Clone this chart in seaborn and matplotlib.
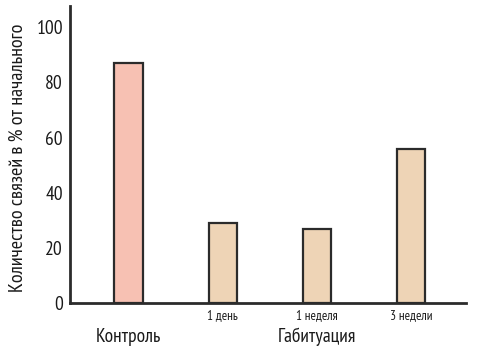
import matplotlib
matplotlib.use("Agg")
import matplotlib.pyplot as plt
import matplotlib.transforms as mtransforms
import seaborn as sns
import pandas as pd

categories = ["Контроль", "1 день", "1 неделя", "3 недели"]
values = [87, 29, 27, 56]
tick_labels = ["", "1 день", "1 неделя", "3 недели"]
group_labels = ["Контроль", "Габитуация"]
y_ticks = [0, 20, 40, 60, 80, 100]
ylabel = "Количество связей в % от начального"

sns.set_theme(style="white")
plt.rcParams["font.family"] = ["PT Sans Narrow", "DejaVu Sans"]

fig = plt.figure(figsize=(4.79, 3.46), dpi=100)
ax = fig.add_axes([70 / 479, 42.7 / 346, 396 / 479, 297.6 / 346])

df = pd.DataFrame({"group": categories, "value": values})
palette = ["#F7C1B3", "#EED4B6", "#EED4B6", "#EED4B6"]
sns.barplot(data=df, x="group", y="value", hue="group", palette=palette,
            legend=False, width=0.3, edgecolor="#2b2b2b", linewidth=1.6,
            saturation=1, ax=ax)

ax.set_xlim(-0.62, 3.58)
ax.set_ylim(0, 107.8)
ax.set_yticks(y_ticks)
ax.set_yticklabels([str(t) for t in y_ticks], fontsize=14, color="#1a1a1a")
ax.set_xticks(range(len(categories)))
ax.set_xticklabels(tick_labels, fontsize=9.5, color="#1a1a1a")
ax.tick_params(axis="y", direction="in", length=9, width=2, color="#2b2b2b", pad=5)
ax.tick_params(axis="x", length=0, pad=4)
ax.set_xlabel("")
ax.set_ylabel(ylabel, fontsize=14.5, color="#1a1a1a")
ax.yaxis.set_label_coords(-0.108, 0.49)

for side in ["top", "right"]:
    ax.spines[side].set_visible(False)
for side in ["left", "bottom"]:
    ax.spines[side].set_linewidth(2)
    ax.spines[side].set_color("#2b2b2b")

trans = mtransforms.blended_transform_factory(ax.transData, fig.transFigure)
ax.text(0, 1 - 337 / 346, group_labels[0], transform=trans, ha="center",
        va="center", fontsize=14, color="#1a1a1a")
ax.text(2, 1 - 337 / 346, group_labels[1], transform=trans, ha="center",
        va="center", fontsize=14, color="#1a1a1a")

fig.savefig("out.png", dpi=100)
